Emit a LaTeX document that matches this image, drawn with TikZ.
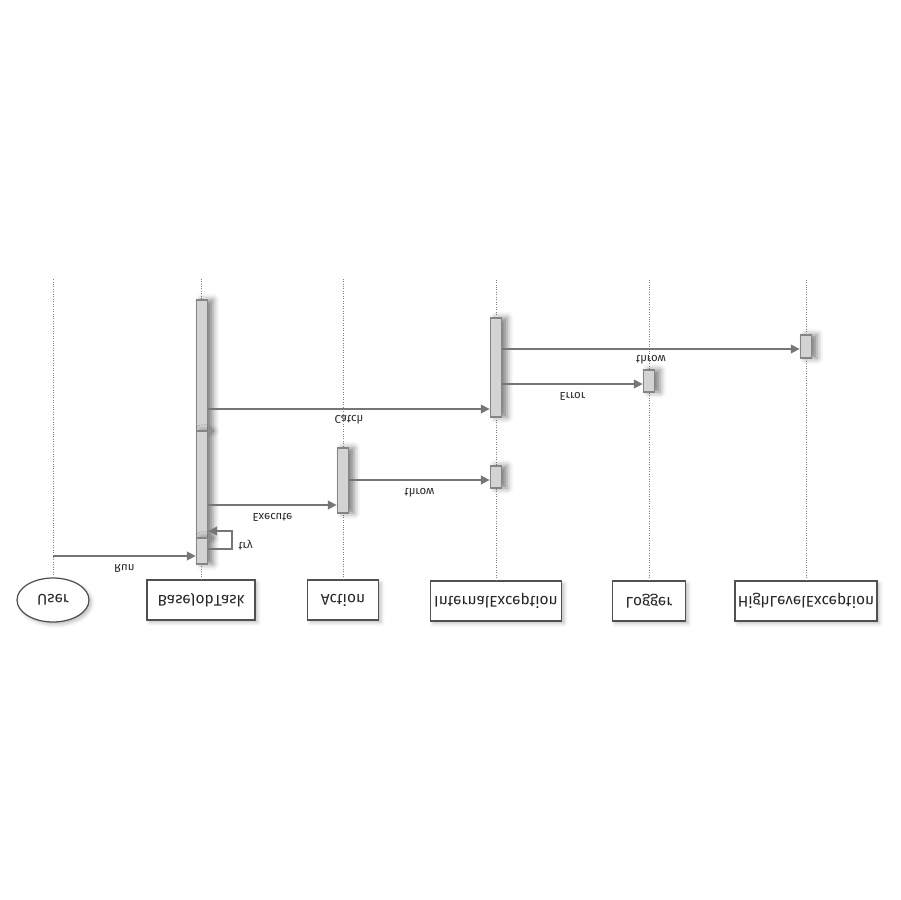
\documentclass[tikz,border=0pt]{standalone}
\usepackage{fontspec}
\setsansfont{Fira Sans}
\usetikzlibrary{arrows.meta, shapes.geometric, shadows.blur}

\definecolor{actfill}{HTML}{D3D3D3}
\definecolor{actdraw}{HTML}{858585}
\definecolor{msggray}{HTML}{767676}
\definecolor{headgray}{HTML}{505050}

% the whole picture is upside down, its texts too
\newcommand{\flipped}[1]{\scalebox{1}[-1]{#1}}

\tikzset{
  headbox/.style={draw=headgray, fill=white, line width=0.7pt, minimum height=0.8cm,
    inner sep=1pt, font=\sffamily\fontsize{8.8}{11}\selectfont, text=black!85,
    blur shadow={shadow xshift=1.5pt, shadow yshift=-1.5pt, shadow opacity=25, shadow blur radius=2pt}},
  actbar/.style={draw=actdraw, fill=actfill, line width=0.7pt, minimum width=0.23cm, inner sep=0pt,
    blur shadow={shadow xshift=3pt, shadow yshift=0pt, shadow opacity=50, shadow blur radius=3.5pt}},
  lifeline/.style={densely dotted, gray, line width=0.4pt},
  msg/.style={draw=msggray, line width=0.8pt, -{Triangle[length=5pt,width=5pt]}},
  msglabel/.style={font=\sffamily\fontsize{6.5}{8}\selectfont, text=black!85}
}

\begin{document}
\begin{tikzpicture}[x=0.02cm, y=-0.02cm]
  \useasboundingbox (0,0) rectangle (900,900);

  % Participants
  \node[headbox, ellipse, minimum width=1.44cm, minimum height=0.88cm] (user) at (53,600) {\flipped{User}};
  \node[headbox, minimum width=2.16cm] (bjt) at (201,600) {\flipped{BaseJobTask}};
  \node[headbox, minimum width=1.42cm] (act) at (343,600) {\flipped{Action}};
  \node[headbox, minimum width=2.62cm] (ie) at (496,601) {\flipped{InternalException}};
  \node[headbox, minimum width=1.46cm] (log) at (649,601) {\flipped{Logger}};
  \node[headbox, minimum width=2.84cm] (hle) at (806,601) {\flipped{HighLevelException}};

  % Lifelines
  \foreach \p in {user, bjt, act, ie, log, hle}
    \draw[lifeline] (\p.north) -- (\p.north |- 0,278);

  % Activations
  \node[actbar, minimum height=2.62cm] (bjtA) at (202,365.5) {};
  \node[actbar, minimum height=2.14cm] (bjtB) at (202,484.5) {};
  \node[actbar, minimum height=0.52cm] (bjtC) at (202,551) {};
  \node[actbar, minimum height=1.30cm] (actA) at (343,480.5) {};
  \node[actbar, minimum height=1.98cm] (ieA) at (496,367.5) {};
  \node[actbar, minimum height=0.44cm] (ieB) at (496,477) {};
  \node[actbar, minimum height=0.44cm] (logA) at (649,381) {};
  \node[actbar, minimum height=0.46cm] (hleA) at (806,346.5) {};

  % Messages
  \coordinate (tryturn) at (232,531);
  \draw[msg] (user.north |- 0,556) -- (bjtC.west |- 0,556)
    node[msglabel, midway, below=1pt] {\flipped{Run}};
  \draw[msg] (bjtC.east |- 0,549) -| (tryturn)
    node[msglabel, pos=0.62, right=0pt] {\flipped{try}} -- (bjtB.east |- tryturn);
  \draw[msg] (bjtB.east |- 0,505) -- (actA.west |- 0,505)
    node[msglabel, midway, below=1pt] {\flipped{Execute}};
  \draw[msg] (actA.east |- 0,480) -- (ieB.west |- 0,480)
    node[msglabel, midway, below=1pt] {\flipped{throw}};
  \draw[msg] (bjtA.east |- 0,409) -- (ieA.west |- 0,409)
    node[msglabel, midway, below=0pt] {\flipped{Catch}};
  \draw[msg] (ieA.east |- 0,384) -- (logA.west |- 0,384)
    node[msglabel, midway, below=1pt] {\flipped{Error}};
  \draw[msg] (ieA.east |- 0,349) -- (hleA.west |- 0,349)
    node[msglabel, midway, below=0pt] {\flipped{throw}};
\end{tikzpicture}
\end{document}
